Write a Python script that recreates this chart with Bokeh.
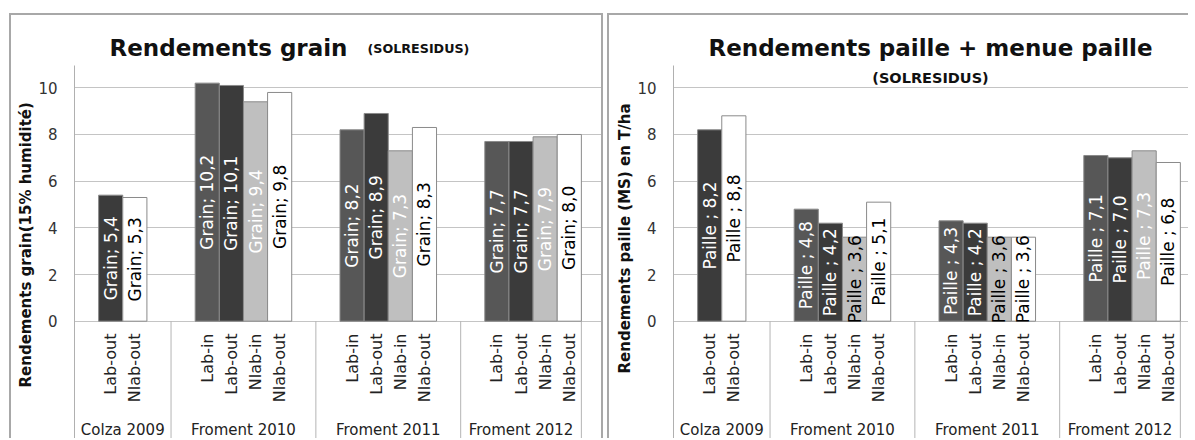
import math
from bokeh.plotting import figure
from bokeh.models import ColumnDataSource, Range1d, FixedTicker, Title
from bokeh.layouts import row
from bokeh.embed import file_html
from bokeh.resources import INLINE
from bokeh.core.properties import value

# ---------------- data ----------------
groups = ["Colza 2009", "Froment 2010", "Froment 2011", "Froment 2012"]
subs = [["Lab-out", "Nlab-out"],
        ["Lab-in", "Lab-out", "Nlab-in", "Nlab-out"],
        ["Lab-in", "Lab-out", "Nlab-in", "Nlab-out"],
        ["Lab-in", "Lab-out", "Nlab-in", "Nlab-out"]]
grain = [[5.4, 5.3], [10.2, 10.1, 9.4, 9.8], [8.2, 8.9, 7.3, 8.3], [7.7, 7.7, 7.9, 8.0]]
paille = [[8.2, 8.8], [4.8, 4.2, 3.6, 5.1], [4.3, 4.2, 3.6, 3.6], [7.1, 7.0, 7.3, 6.8]]
grain_label_colors = [["white", "black"], ["white", "white", "white", "black"],
                      ["white", "white", "white", "black"], ["white", "white", "white", "black"]]
paille_label_colors = [["white", "black"], ["white", "white", "black", "black"],
                       ["white", "white", "black", "black"], ["white", "white", "white", "black"]]
sub_colors = {"Lab-in": "#575757", "Lab-out": "#3b3b3b", "Nlab-in": "#bfbfbf", "Nlab-out": "#ffffff"}
y_ticks = [0, 2, 4, 6, 8, 10]

FONT = "DejaVu Sans"
GRID = "#c4c4c4"
BORDER = "2px solid #a8a8a8"
TXT = "#111111"

# ---------------- layout constants (page pixels) ----------------
PXX = 24.136          # px per slot
PXY = 23.34           # px per unit of yield
ZERO_Y = 320.7        # page y of value 0
AXIS_TOP = 65         # page y where the value axis ends
CANVAS_TOP = 15
CANVAS_BOTTOM = 440
Y_END = (ZERO_Y - CANVAS_TOP) / PXY
Y_START = -(CANVAS_BOTTOM - ZERO_Y) / PXY
Y_AXIS_TOP = (ZERO_Y - AXIS_TOP) / PXY


def slot_layout():
    centers, bounds, gcenters = [], [], []
    pos = 0
    for gi, s in enumerate(subs):
        start = pos
        pos += 1
        cs = []
        for _ in s:
            cs.append(pos + 0.5)
            pos += 1
        if gi < len(subs) - 1:
            pos += 1
        bounds.append(pos)
        gcenters.append((start + pos) / 2)
        centers.append(cs)
    return centers, bounds, gcenters, pos + 1


centers, bounds, gcenters, x_total = slot_layout()


def make_panel(vals, prefix, lab_colors, canvas_left, canvas_w, frame_left, x_end,
               ytitle, ytitle_bottom, styles, margin):
    border_left = int(round(frame_left - canvas_left))
    p = figure(width=canvas_w, height=CANVAS_BOTTOM - CANVAS_TOP, title=None,
               x_range=Range1d(0, x_end), y_range=Range1d(Y_START, Y_END),
               output_backend="svg", toolbar_location=None, x_axis_location=None,
               min_border_left=border_left, min_border_right=0,
               min_border_top=0, min_border_bottom=0)
    p.outline_line_color = None
    p.background_fill_color = "white"
    p.border_fill_color = "white"
    p.styles = styles
    p.margin = margin

    ax = p.yaxis[0]
    ax.ticker = FixedTicker(ticks=y_ticks)
    ax.bounds = (Y_START, Y_AXIS_TOP)
    ax.axis_line_color = "#b0b0b0"
    ax.axis_line_width = 1
    ax.major_tick_line_color = None
    ax.minor_tick_line_color = None
    ax.major_tick_out = 0
    ax.major_tick_in = 0
    ax.major_label_standoff = 17
    ax.major_label_text_font = FONT
    ax.major_label_text_font_size = "15px"
    ax.major_label_text_color = "#333333"
    for g in p.grid:
        if g.dimension == 0:
            g.visible = False
        else:
            g.grid_line_color = GRID
            g.grid_line_width = 1

    # y axis title, placed on the left side
    p.add_layout(Title(text=ytitle, align="left", offset=CANVAS_BOTTOM - ytitle_bottom,
                       vertical_align="middle", standoff=0, text_font=FONT,
                       text_font_size="15px", text_font_style="bold", text_color=TXT), "left")

    xs, tops, fills, labels, lcols, subl = [], [], [], [], [], []
    for gi, s in enumerate(subs):
        for bi, name in enumerate(s):
            xs.append(centers[gi][bi])
            v = vals[gi][bi]
            tops.append(v)
            fills.append(sub_colors[name])
            labels.append(f"{prefix}{v:.1f}".replace(".", ","))
            lcols.append(lab_colors[gi][bi])
            subl.append(name)
    src = ColumnDataSource(dict(x=xs, top=tops, mid=[t / 2 for t in tops], fill=fills,
                                label=labels, lcol=lcols, sub=subl))

    # category separators below the zero line
    p.segment(x0=bounds, x1=bounds, y0=[0] * len(bounds), y1=[Y_START] * len(bounds),
              line_color="#b4b4b4", line_width=1)

    p.vbar(x="x", top="top", bottom=0, width=1, source=src, fill_color="fill",
           line_color="#8a8a8a", line_width=1)

    p.text(x="x", y="mid", text="label", source=src, angle=math.pi / 2,
           text_align="center", text_baseline="middle", text_color="lcol",
           text_font=value(FONT), text_font_size="17px")

    def xd(px):
        return (px - frame_left) / PXX

    def yd(py):
        return (ZERO_Y - py) / PXY

    # sub-category labels (rotated)
    p.text(x="x", y=yd(333), text="sub", source=src, angle=math.pi / 2,
           text_align="right", text_baseline="middle", text_color="#222222",
           text_font=value(FONT), text_font_size="16px")

    # group labels
    p.text(x=gcenters, y=[yd(429)] * len(gcenters), text=groups,
           text_align="center", text_baseline="middle", text_color="#222222",
           text_font=value(FONT), text_font_size="15px")
    return p, xd, yd


def title_text(p, x, y, txt, size, align):
    p.text(x=[x], y=[y], text=[txt], text_align=align, text_baseline="alphabetic",
           text_font=value(FONT), text_font_size=size, text_font_style="bold",
           text_color=TXT)


# left panel
p1, xd1, yd1 = make_panel(grain, "Grain; ", grain_label_colors, 11, 594, 74.0,
                          x_total, "Rendements grain(15% humidité)", 387,
                          {"border-top": BORDER, "border-left": BORDER, "border-right": BORDER},
                          (13, 0, 0, 9))
title_text(p1, xd1(109), yd1(47.5), "Rendements grain", "23px", "left")
title_text(p1, xd1(367), yd1(47.5), "(SOLRESIDUS)", "12.7px", "left")

# right panel
right_canvas_left = 613
right_frame_left = 677.0
right_canvas_w = 581
right_x_end = (right_canvas_left + right_canvas_w - right_frame_left) / PXX
p2, xd2, yd2 = make_panel(paille, "Paille ; ", paille_label_colors, right_canvas_left,
                          right_canvas_w, right_frame_left, right_x_end,
                          "Rendements paille (MS) en T/ha", 373,
                          {"border-top": BORDER, "border-left": BORDER},
                          (13, 0, 0, 4))
title_text(p2, xd2(934), yd2(47), "Rendements paille + menue paille", "23px", "center")
title_text(p2, xd2(934), yd2(77), "(SOLRESIDUS)", "14.5px", "center")

layout = row(p1, p2)
open("out.html", "w").write(file_html(layout, INLINE))
